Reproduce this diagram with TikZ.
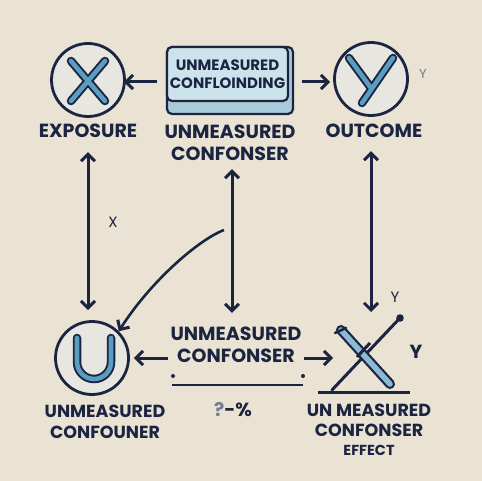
\documentclass[tikz,border=0pt]{standalone}
\usepackage{fontspec}
\setmainfont{Poppins}
\usetikzlibrary{arrows.meta, positioning}

\definecolor{ink}{HTML}{1B2440}
\definecolor{paper}{HTML}{EAE3D3}
\definecolor{disc}{HTML}{E7E6E1}
\definecolor{glyph}{HTML}{5A9CC2}
\definecolor{boxface}{HTML}{CDE3EC}
\definecolor{boxside}{HTML}{A9CAD8}

\begin{document}
\begin{tikzpicture}[x=1pt,y=-1pt,
    >={Straight Barb[length=7pt,width=14pt,line width=3pt]},
    lbl/.style={text=ink, align=center, inner sep=0pt,
        font=\fontsize{19}{22}\selectfont\bfseries},
    ring/.style={circle, draw=ink, line width=2.8pt, fill=disc,
        minimum size=73pt, inner sep=0pt},
    link/.style={ink, line width=3pt},
    strokeout/.style={ink, line width=8.5pt, line cap=round},
    strokein/.style={glyph, line width=4.6pt, line cap=round}]

    % background
    \fill[paper] (0,0) rectangle (482,481);
    \useasboundingbox (0,0) rectangle (482,481);

    % top row
    \node[ring] (x) at (88,80) {};
    \draw[strokeout] (71,61) -- (105,101) (105,61) -- (71,101);
    \draw[strokein] (71,61) -- (105,101) (105,61) -- (71,101);

    \node[ring] (y) at (371,79) {};
    \draw[strokeout] (393,58) -- (362,103) (349,58) -- (371,88);
    \draw[strokein] (393,58) -- (362,103) (349,58) -- (371,88);

    \fill[boxside, draw=ink, line width=2.2pt, rounded corners=5pt]
        (167,47) rectangle (293,114);
    \node[draw=ink, line width=2.2pt, fill=boxface, rounded corners=5pt,
        minimum width=121pt, minimum height=54pt, lbl,
        font=\fontsize{15}{18}\selectfont\bfseries]
        (conf) at (227.5,74) {UNMEASURED\\CONFLOINDING};

    \node[lbl] (expo) at (88,131) {EXPOSURE};
    \node[lbl] (conflbl) at (230,143) {UNMEASURED\\CONFONSER};
    \node[lbl] (outc) at (374,131) {OUTCOME};
    \node[text=ink!60, font=\fontsize{13}{15}\selectfont] (ytag) at (423,74) {Y};

    \draw[->,link] (conf.west) ++(-9,8) coordinate (cl) -- (cl -| x.east) [shorten >=-2pt];
    \draw[->,link] (conf.east) ++(13,8) coordinate (cr) -- (cr -| y.west) [shorten >=3pt];

    % bottom row
    \node[ring] (u) at (92,358) {};
    \draw[strokeout] (77,338) -- (77,362) arc (180:0:17) -- (111,338);
    \draw[strokein] (77,338) -- (77,362) arc (180:0:17) -- (111,338);

    \node[lbl] (midlbl) at (236,345) {UNMEASURED\\CONFONSER};
    \coordinate (xfx) at (368,358);
    \draw[link] (318,392) -- (410,392);
    \draw[ink, line width=3pt, line cap=round] (332,390) -- (399,319);
    \fill[ink] (400,318) circle (3.8pt);
    \draw[ink, line width=10pt, line cap=round] (341,330) -- (390,384);
    \draw[glyph!70, line width=5.6pt, line cap=round] (341,330) -- (390,384);
    \draw[ink, line width=2.6pt, line cap=round] (335,333) -- (346,328);
    \draw[ink, line width=3pt] (357,357) -- (370,343);
    \node[lbl] (ytag2) at (416,352) {Y};

    \draw[->,link] (midlbl.west |- u) ++(-2,0) coordinate (ml) -- (u.east) [shorten >=4pt];
    \draw[->,link] (midlbl.east |- u) ++(2,0) coordinate (mr) -- (xfx -| 333,0) [shorten >=0pt];

    \draw[ink, line width=2.8pt] (172,385) -- (303,385);
    \fill[ink] (173,376) circle (2pt) (303,376) circle (2pt);
    \node[lbl] (pct) at (233,410) {\textcolor{ink!60}{?}-\%};

    \node[lbl, font=\fontsize{17.5}{21}\selectfont\bfseries] (ulbl) at (105,422) {UNMEASURED\\CONFOUNER};
    \node[lbl, font=\fontsize{17.5}{19.5}\selectfont\bfseries] (efflbl) at (369,430) {UN MEASURED\\CONFONSER\\
        {\fontsize{14.5}{17}\selectfont EFFECT}};

    % verticals
    \draw[<->,link] (expo.south) ++(0,14) coordinate (a1) -- (a1 |- u.north) [shorten >=10pt];
    \draw[<->,link] (conflbl.south) ++(2,8) coordinate (a2) -- (a2 |- midlbl.north) [shorten >=14pt];
    \draw[<->,link] (outc.south) ++(-3,13) coordinate (a3) -- (a3 |- xfx) [shorten >=46pt];
    \node[lbl, font=\fontsize{15}{17}\selectfont] (xtag) at (113,222) {X};
    \node[lbl, font=\fontsize{15}{17}\selectfont] (ytag3) at (395,297) {Y};

    % curved link into U
    \draw[->,link, line width=2.6pt] (a2 |- 0,230) ++(-8,0) coordinate (c0)
        .. controls (198,240) and (150,282) .. (u.north east);
\end{tikzpicture}
\end{document}
